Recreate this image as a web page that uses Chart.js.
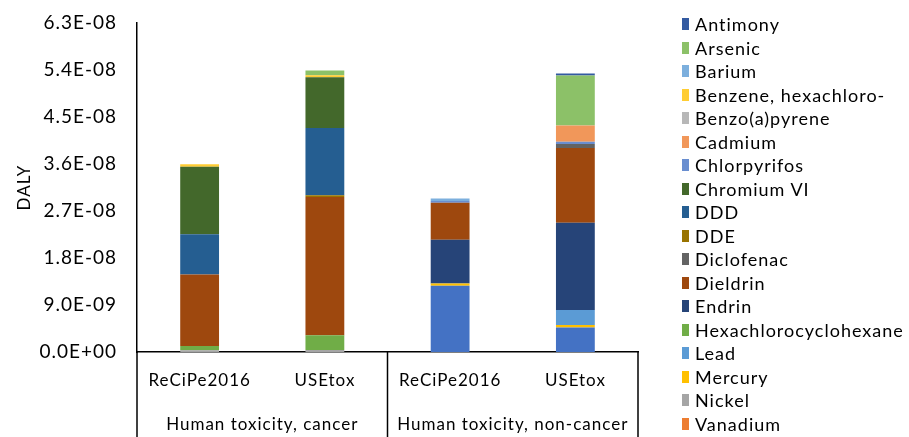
<!DOCTYPE html>
<html>
<head>
<meta charset="utf-8">
<script src="https://cdn.jsdelivr.net/npm/chart.js@4.4.0/dist/chart.umd.min.js"></script>
<style>
html, body { margin: 0; padding: 0; background: #fff; }
#wrap { position: relative; width: 909px; height: 437px; }
#legend { position: absolute; left: 0; top: 0; font-family: Lato, sans-serif; font-size: 18px; letter-spacing: 1px; color: #000; }
.item { position: absolute; left: 682px; height: 20px; line-height: 20px; white-space: nowrap; }
.item i { position: absolute; left: 0; top: 4px; width: 7px; height: 12px; }
.item span { position: absolute; left: 13px; top: 0; }
</style>
</head>
<body>
<div id="wrap">
  <canvas id="chart"></canvas>
  <div id="legend"></div>
</div>
<script>
// Categories (two-level axis)
const categories = ['ReCiPe2016', 'USEtox', 'ReCiPe2016', 'USEtox'];
const groups = ['Human toxicity, cancer', 'Human toxicity, non-cancer'];

// Y axis ticks, in units of 1E-09 DALY
const yTicks = [0, 9, 18, 27, 36, 45, 54, 63];

// Series values, in units of 1E-09 DALY (stack order: bottom -> top)
const zinc           = [0, 0, 12.7, 4.7];
const vanadium       = [0, 0, 0, 0];
const nickel         = [0.35, 0.4, 0, 0];
const mercury        = [0, 0, 0.4, 0.45];
const lead           = [0, 0, 0, 2.9];
const hch            = [0.8, 2.8, 0, 0];
const endrin         = [0, 0, 8.4, 16.7];
const dieldrin       = [13.7, 26.5, 7.1, 14.3];
const diclofenac     = [0, 0, 0, 0.8];
const dde            = [0, 0.3, 0, 0];
const ddd            = [7.7, 12.9, 0, 0];
const chromiumVI     = [12.9, 9.7, 0, 0];
const chlorpyrifos   = [0, 0, 0.3, 0.4];
const cadmium        = [0, 0, 0, 3.1];
const benzoApyrene   = [0, 0, 0, 0];
const hexachlorobenz = [0.5, 0.4, 0, 0];
const barium         = [0, 0, 0.5, 0];
const arsenic        = [0, 0.9, 0, 9.6];
const antimony       = [0, 0, 0, 0.4];

const seriesNames = ['Zinc', 'Vanadium', 'Nickel', 'Mercury', 'Lead', 'Hexachlorocyclohexane',
  'Endrin', 'Dieldrin', 'Diclofenac', 'DDE', 'DDD', 'Chromium VI', 'Chlorpyrifos', 'Cadmium',
  'Benzo(a)pyrene', 'Benzene, hexachloro-', 'Barium', 'Arsenic', 'Antimony'];
const seriesValues = [zinc, vanadium, nickel, mercury, lead, hch, endrin, dieldrin, diclofenac,
  dde, ddd, chromiumVI, chlorpyrifos, cadmium, benzoApyrene, hexachlorobenz, barium, arsenic, antimony];
const seriesColors = ['#4472C4', '#ED7D31', '#A5A5A5', '#FFC000', '#5B9BD5', '#70AD47',
  '#264478', '#9E480E', '#636363', '#997300', '#255E91', '#43682B', '#698ED0', '#F1975A',
  '#B7B7B7', '#FFCD33', '#7CAFDD', '#8CC168', '#335AA1'];
// series not listed in the legend (cut off in the original)
const hiddenInLegend = ['Zinc'];

const FONT = 'Lato, sans-serif';

function sciLabel(v) {
    const parts = (v * 1e-9).toExponential(1).split('e');
    const exp = parseInt(parts[1], 10);
    return parts[0] + 'E' + (exp < 0 ? '-' : '+') + String(Math.abs(exp)).padStart(2, '0');
}

// letter spacing, to get the wide Excel text look
const spacingPlugin = {
    id: 'spacing',
    beforeUpdate(chart) { chart.ctx.letterSpacing = '1px'; },
    beforeLayout(chart) { chart.ctx.letterSpacing = '1px'; },
    beforeDraw(chart) { chart.ctx.letterSpacing = '1px'; }
};

// group dividers and group labels under the category axis
const groupPlugin = {
    id: 'groups',
    afterDraw(chart) {
        const { ctx, chartArea, scales: { x } } = chart;
        const mid = (x.getPixelForValue(1) + x.getPixelForValue(2)) / 2;
        ctx.save();
        ctx.strokeStyle = '#000';
        ctx.lineWidth = 1.5;
        [chartArea.left, mid, chartArea.right].forEach(px => {
            ctx.beginPath();
            ctx.moveTo(px, chartArea.bottom);
            ctx.lineTo(px, chart.height);
            ctx.stroke();
        });
        ctx.font = '17px ' + FONT;
        ctx.fillStyle = '#000';
        ctx.textAlign = 'center';
        ctx.textBaseline = 'middle';
        ctx.fillText(groups[0], (chartArea.left + mid) / 2, chartArea.bottom + 73);
        ctx.fillText(groups[1], (mid + chartArea.right) / 2, chartArea.bottom + 73);
        ctx.restore();
    }
};

const datasets = seriesNames.map((name, i) => ({
    label: name,
    data: seriesValues[i],
    backgroundColor: seriesColors[i],
    borderWidth: 0,
    barPercentage: 0.62,
    categoryPercentage: 0.5
}));

new Chart(document.getElementById('chart'), {
    type: 'bar',
    data: { labels: categories, datasets: datasets },
    options: {
        responsive: true,
        maintainAspectRatio: false,
        animation: false,
        layout: { padding: { top: 23, right: 271, left: 0, bottom: 0 } },
        plugins: {
            legend: { display: false },
            tooltip: { enabled: false }
        },
        scales: {
            x: {
                stacked: true,
                grid: { display: false, drawTicks: false },
                border: { display: true, color: '#000', width: 1.5 },
                ticks: { color: '#000', font: { family: FONT, size: 17 }, padding: 18, maxRotation: 0 },
                afterFit(scale) { scale.height = 85; }
            },
            y: {
                stacked: true,
                min: 0,
                max: 63,
                afterBuildTicks(scale) { scale.ticks = yTicks.map(v => ({ value: v })); },
                grid: { display: false, drawTicks: false },
                border: { display: true, color: '#000', width: 1.5 },
                ticks: { color: '#000', font: { family: FONT, size: 19 }, padding: 20, callback: v => sciLabel(v) },
                title: { display: true, text: 'DALY', color: '#000', font: { family: FONT, size: 17 }, padding: { top: 14, bottom: 0 } },
                afterFit(scale) {
                    scale.width = 137;
                    scale.paddingTop = 0;
                    scale.paddingBottom = 0;
                }
            }
        }
    },
    plugins: [spacingPlugin, groupPlugin]
});

// HTML legend, top entry = top of stack
const legend = document.getElementById('legend');
const shown = seriesNames.map((n, i) => i).filter(i => !hiddenInLegend.includes(seriesNames[i])).reverse();
shown.forEach((idx, row) => {
    const item = document.createElement('div');
    item.className = 'item';
    item.style.top = (24 + row * 23.53 - 10) + 'px';
    item.innerHTML = '<i style="background:' + seriesColors[idx] + '"></i><span>' + seriesNames[idx] + '</span>';
    legend.appendChild(item);
});
</script>
</body>
</html>
